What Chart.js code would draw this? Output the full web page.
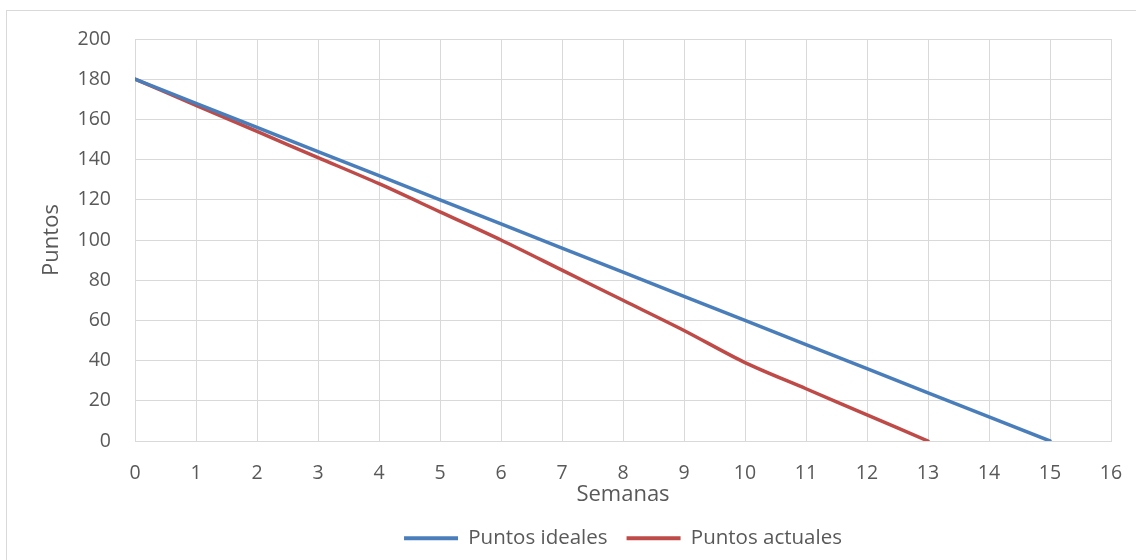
<!DOCTYPE html>
<html>
<head>
<meta charset="utf-8">
<script src="https://cdn.jsdelivr.net/npm/chart.js@4"></script>
<style>
    body { margin: 0; background: #ffffff; }
    #contenedor { position: relative; width: 1136px; height: 560px; overflow: hidden; }
    #marco { position: absolute; left: 6px; top: 10px; width: 1140px; height: 600px; border: 1px solid #d9d9d9; }
    #grafico { position: absolute; left: 0; top: 0; }
</style>
</head>
<body>
<div id="contenedor">
    <div id="marco"></div>
    <canvas id="grafico" width="1136" height="560"></canvas>
</div>
<script>
// semanas del sprint
semanas_ideales = [0, 1, 2, 3, 4, 5, 6, 7, 8, 9, 10, 11, 12, 13, 14, 15]
puntos_ideales = [180, 168, 156, 144, 132, 120, 108, 96, 84, 72, 60, 48, 36, 24, 12, 0]

semanas_actuales = [0, 1, 2, 3, 4, 5, 6, 7, 8, 9, 10, 11, 12, 13]
puntos_actuales = [180, 167, 154, 141, 128, 114, 100, 85, 70, 55, 39, 26, 13, 0]

nombres_series = ["Puntos ideales", "Puntos actuales"]
titulo_x = "Semanas"
titulo_y = "Puntos"

function armar_puntos(xs, ys) {
    puntos = []
    for (i = 0; i < xs.length; i++) {
        puntos.push({ x: xs[i], y: ys[i] })
    }
    return puntos
}

function create_chart() {
    fuente = "'Open Sans', Lato, sans-serif"
    gris_texto = "#595959"
    gris_grid = "#d9d9d9"
    // las marcas de tick son invisibles, solo sirven para separar las etiquetas
    sin_color = "rgba(0, 0, 0, 0)"

    new Chart(document.querySelector("#grafico"), {
        type: "line",
        data: {
            datasets: [
                {
                    label: nombres_series[0],
                    data: armar_puntos(semanas_ideales, puntos_ideales),
                    borderColor: "#4a7ebb",
                    backgroundColor: "#4a7ebb",
                    borderWidth: 3.5,
                    tension: 0,
                },
                {
                    label: nombres_series[1],
                    data: armar_puntos(semanas_actuales, puntos_actuales),
                    borderColor: "#be4b48",
                    backgroundColor: "#be4b48",
                    borderWidth: 3.5,
                    tension: 0.3,
                },
            ],
        },
        options: {
            responsive: false,
            animation: false,
            layout: {
                padding: { top: 39, right: 25, bottom: 1.5, left: 0 }
            },
            elements: {
                point: { radius: 0 },
                line: { borderCapStyle: "round" }
            },
            scales: {
                x: {
                    type: "linear",
                    min: 0,
                    max: 16,
                    ticks: {
                        stepSize: 1,
                        color: gris_texto,
                        font: { family: fuente, size: 19.5 },
                        padding: 0,
                    },
                    grid: { color: gris_grid, drawTicks: true, tickLength: 21, tickColor: sin_color },
                    border: { color: gris_grid },
                    title: {
                        display: true,
                        text: titulo_x,
                        color: gris_texto,
                        font: { family: fuente, size: 22 },
                        padding: { top: 0, bottom: 1 },
                    },
                    afterFit: function (scale) { scale.height = 68 },
                },
                y: {
                    min: 0,
                    max: 200,
                    ticks: {
                        stepSize: 20,
                        color: gris_texto,
                        font: { family: fuente, size: 19.5 },
                        padding: 0,
                    },
                    grid: { color: gris_grid, drawTicks: true, tickLength: 24, tickColor: sin_color },
                    border: { color: gris_grid },
                    title: {
                        display: true,
                        text: titulo_y,
                        color: gris_texto,
                        font: { family: fuente, size: 22 },
                        padding: { top: 39, bottom: 0 },
                    },
                    afterFit: function (scale) { scale.width = 135 },
                },
            },
            plugins: {
                tooltip: { enabled: false },
                legend: {
                    display: true,
                    position: "bottom",
                    fullSize: false,
                    labels: {
                        boxWidth: 54,
                        boxHeight: 4,
                        padding: 19,
                        color: gris_texto,
                        font: { family: fuente, size: 20.5 },
                        generateLabels: function (chart) {
                            items = Chart.defaults.plugins.legend.labels.generateLabels(chart)
                            items.forEach(function (item) { item.lineWidth = 0 })
                            return items
                        }
                    }
                }
            }
        }
    })
}

create_chart()
</script>
</body>
</html>
